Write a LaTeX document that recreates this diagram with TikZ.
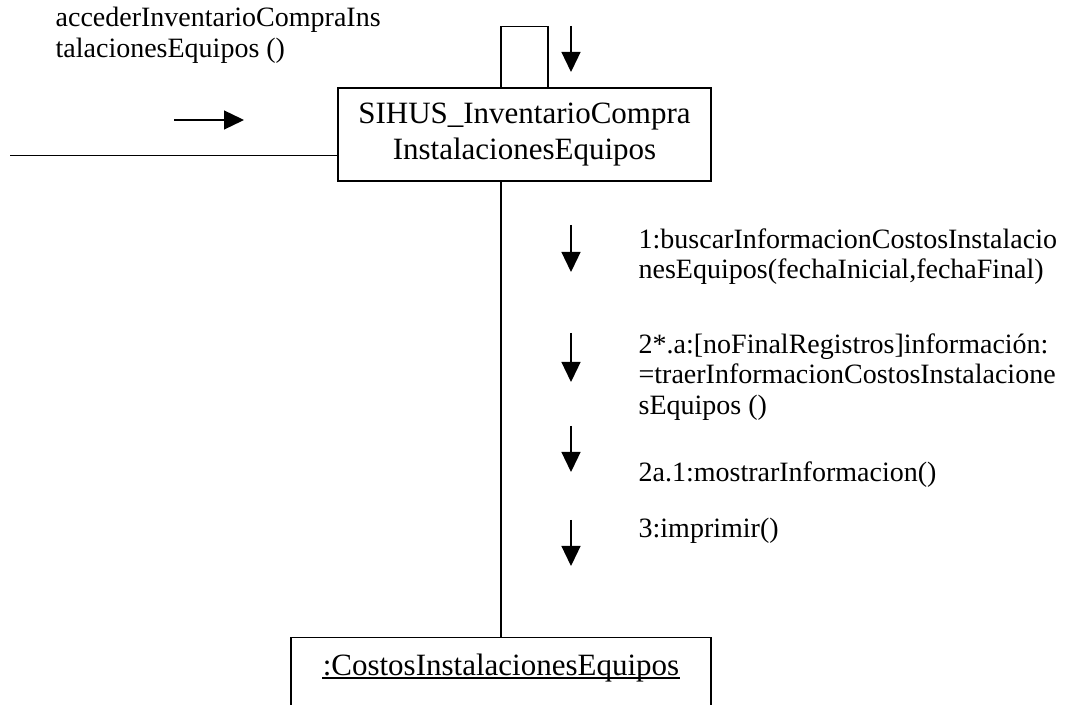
\documentclass[tikz,border=0pt]{standalone}
\usepackage{fontspec}
\setmainfont{Liberation Serif}
\usetikzlibrary{arrows.meta}
\begin{document}
\begin{tikzpicture}[x=1pt,y=1pt,line width=1.3pt,
  objbox/.style={draw, line width=1.3pt, inner sep=0pt, font=\fontsize{31}{36}\selectfont, align=center},
  lbl/.style={anchor=north west, inner sep=0pt, font=\fontsize{28}{30.5}\selectfont, align=left},
  msg/.style={-{Triangle[length=20pt,width=19pt]}, line width=1.3pt}]
\useasboundingbox (0,0) rectangle (1067,704);
% objects
\node[objbox, minimum width=373pt, minimum height=93pt] (sihus) at (524.5,569.5) {\raisebox{-3pt}{SIHUS\_InventarioCompra}\\\raisebox{-3pt}{InstalacionesEquipos}};
\node[draw, line width=1.3pt, inner sep=0pt, minimum width=420pt, minimum height=120pt, anchor=north] (costos) at (501,67) {};
\node[anchor=base, inner sep=0pt, font=\fontsize{31}{36}\selectfont] (costostxt) at (501,29) {:CostosInstalacionesEquipos};
\draw[line width=1.2pt] ([yshift=-3pt]costostxt.base west) -- ([yshift=-3pt]costostxt.base east);
% links
\draw (costos.north) -- (costos.north |- sihus.south);
\draw ([xshift=-23.5pt]sihus.north) -- ++(0,61) -| ([xshift=23.5pt]sihus.north);
\coordinate (lin) at (10,548.3);
\draw (sihus.west |- lin) -- (lin);
% message arrows
\coordinate (a0s) at (174,584); \coordinate (a0e) at (244,584);
\draw[msg] (a0s) -- (a0e);
\coordinate (t0s) at (571,678); \coordinate (t0e) at (571,632);
\draw[msg] (t0s) -- (t0e);
\coordinate (m1s) at (571,479); \coordinate (m1e) at (571,432);
\draw[msg] (m1s) -- (m1e);
\coordinate (m2s) at (571,371); \coordinate (m2e) at (571,322);
\draw[msg] (m2s) -- (m2e);
\coordinate (m3s) at (571,278); \coordinate (m3e) at (571,232);
\draw[msg] (m3s) -- (m3e);
\coordinate (m4s) at (571,184); \coordinate (m4e) at (571,138);
\draw[msg] (m4s) -- (m4e);
% labels
\node[lbl] (lin0) at (55,697.3) {accederInventarioCompraIns\\talacionesEquipos ()};
\node[lbl] (lab1) at (638,476.3) {1:buscarInformacionCostosInstalacio\\nesEquipos(fechaInicial,fechaFinal)};
\node[lbl] (lab2) at (638,371.3) {2*.a:[noFinalRegistros]información:\\=traerInformacionCostosInstalacione\\sEquipos ()};
\node[lbl] (lab3) at (638,243.3) {2a.1:mostrarInformacion()};
\node[lbl] (lab4) at (638,186.3) {3:imprimir()};
\end{tikzpicture}
\end{document}
